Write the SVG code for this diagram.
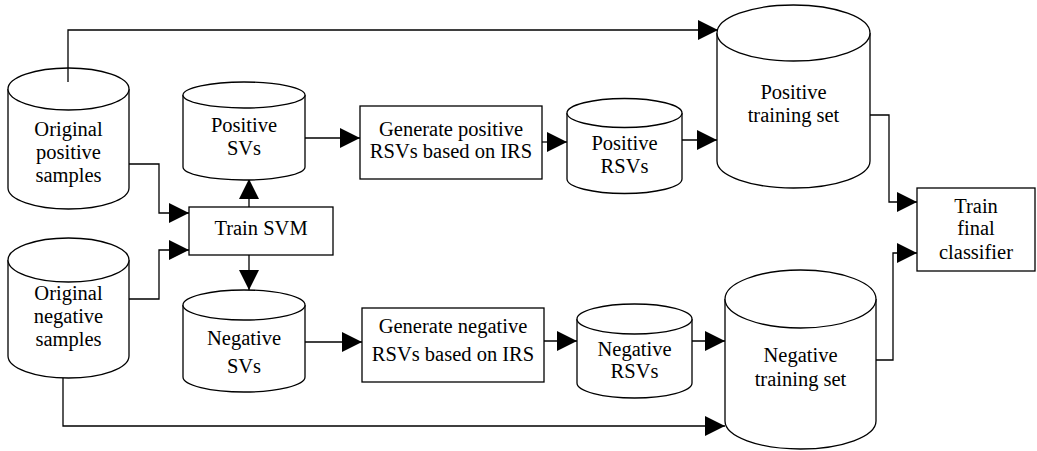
<svg xmlns="http://www.w3.org/2000/svg" width="1037" height="451" viewBox="0 0 1037 451">
<defs>
<marker id="arr" markerUnits="userSpaceOnUse" markerWidth="21" markerHeight="21" refX="20" refY="10" orient="auto">
<path d="M0,0 L20,10 L0,20 Z" fill="#000"/>
</marker>
<style>
.shape{fill:#fff;stroke:#000;stroke-width:1.3}
.conn{fill:none;stroke:#000;stroke-width:1.3;marker-end:url(#arr)}
.line{fill:none;stroke:#000;stroke-width:1.3}
text{font-family:"Liberation Serif","Times New Roman",serif;font-size:20.5px;fill:#000;text-anchor:middle}
</style>
</defs>
<rect width="1037" height="451" fill="#fff"/>

<g id="connectors">
<path class="conn" d="M68,82 V30 H718"/>
<path class="conn" d="M129,164 H159 V213 H189"/>
<path class="conn" d="M129,299 H159 V250 H189"/>
<path class="conn" d="M249,207 V179"/>
<path class="conn" d="M249,255 V290"/>
<path class="conn" d="M305,138 H360"/>
<path class="conn" d="M542,142 H567"/>
<path class="conn" d="M682,140 H717"/>
<path class="conn" d="M305,342 H362"/>
<path class="conn" d="M544,341 H577"/>
<path class="conn" d="M692,341 H725"/>
<path class="conn" d="M63,378 V426 H725"/>
<path class="conn" d="M870,115 H889 V202 H917"/>
<path class="conn" d="M876,360 H893 V253 H917"/>
</g>

<g id="orig-pos">
<path class="shape" d="M8,89 V188 A60.5,21 0 0 0 129,188 V89"/>
<ellipse class="shape" cx="68.5" cy="89" rx="60.5" ry="21"/>
<path class="line" d="M68,82 V68"/>
<text x="68.5" y="136">Original</text>
<text x="68.5" y="159">positive</text>
<text x="68.5" y="182">samples</text>
</g>

<g id="orig-neg">
<path class="shape" d="M8,260 V356 A60.5,22 0 0 0 129,356 V260"/>
<ellipse class="shape" cx="68.5" cy="260" rx="60.5" ry="22"/>
<text x="68.5" y="300">Original</text>
<text x="68.5" y="323">negative</text>
<text x="68.5" y="346">samples</text>
</g>

<g id="train-svm">
<rect class="shape" x="189" y="207" width="144" height="48"/>
<text x="261" y="235">Train SVM</text>
</g>

<g id="pos-svs">
<path class="shape" d="M183,95 V167 A61,13 0 0 0 305,167 V95"/>
<ellipse class="shape" cx="244" cy="95" rx="61" ry="13"/>
<text x="244" y="132">Positive</text>
<text x="244" y="155">SVs</text>
</g>

<g id="neg-svs">
<path class="shape" d="M183,305 V377 A61,15 0 0 0 305,377 V305"/>
<ellipse class="shape" cx="244" cy="305" rx="61" ry="15"/>
<text x="244" y="345">Negative</text>
<text x="244" y="373">SVs</text>
</g>

<g id="gen-pos">
<rect class="shape" x="360" y="106" width="182" height="73"/>
<text x="451" y="136">Generate positive</text>
<text x="451" y="158">RSVs based on IRS</text>
</g>

<g id="gen-neg">
<rect class="shape" x="362" y="308" width="182" height="74"/>
<text x="453" y="333">Generate negative</text>
<text x="453" y="361">RSVs based on IRS</text>
</g>

<g id="pos-rsvs">
<path class="shape" d="M567,113 V179 A57.5,14.5 0 0 0 682,179 V113"/>
<ellipse class="shape" cx="624.5" cy="113" rx="57.5" ry="14.5"/>
<text x="624.5" y="150">Positive</text>
<text x="624.5" y="173">RSVs</text>
</g>

<g id="neg-rsvs">
<path class="shape" d="M577,319 V383 A57.5,15 0 0 0 692,383 V319"/>
<ellipse class="shape" cx="634.5" cy="319" rx="57.5" ry="15"/>
<text x="634.5" y="356">Negative</text>
<text x="634.5" y="378">RSVs</text>
</g>

<g id="pos-train">
<path class="shape" d="M717,33 V161 A76.5,27 0 0 0 870,161 V33"/>
<ellipse class="shape" cx="793.5" cy="33" rx="76.5" ry="28"/>
<text x="793.5" y="99">Positive</text>
<text x="793.5" y="122">training set</text>
</g>

<g id="neg-train">
<path class="shape" d="M725,299 V421 A75.5,28 0 0 0 876,421 V299"/>
<ellipse class="shape" cx="800.5" cy="299" rx="75.5" ry="29"/>
<text x="800.5" y="362">Negative</text>
<text x="800.5" y="386">training set</text>
</g>

<g id="train-final">
<rect class="shape" x="917" y="188" width="118" height="83"/>
<text x="976" y="213">Train</text>
<text x="976" y="235">final</text>
<text x="976" y="259">classifier</text>
</g>
</svg>
